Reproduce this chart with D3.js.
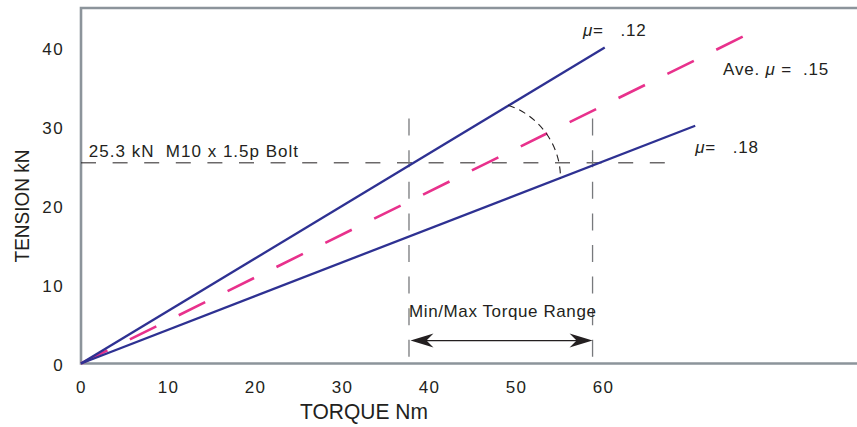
<!DOCTYPE html>
<html>
<head>
<meta charset="utf-8">
<script src="https://cdn.jsdelivr.net/npm/d3@7"></script>
<style>
  body { margin: 0; background: #fff; }
  svg { display: block; font-family: "Liberation Sans", Arial, sans-serif; }
  text { fill: #231f20; white-space: pre; }
</style>
</head>
<body>
<svg id="chart" width="857" height="427"></svg>
<script>
// tick labels
var xTicks = [0, 10, 20, 30, 40, 50, 60],
    yTicks = [0, 10, 20, 30, 40];

// friction lines: [torque Nm, tension kN] end points, all start at origin
var lineLow = [[0, 0], [60.2, 40.0]],      // mu = .12
    lineAve = [[0, 0], [76.3, 41.5]],      // ave mu = .15
    lineHigh = [[0, 0], [70.6, 30.1]];     // mu = .18

// bolt proof load and torque range
var boltTension = 25.4,
    boltLineEnd = 67.4,
    torqueRange = [37.7, 58.8],
    rangeTop = 31,
    arrowTension = 2.9,
    rangeLabelTension = 6.6;

// angle arc between the lines
var arcCenter = [46.3, 23.5],
    arcFrom = [49.1, 32.7],
    arcTo = [55.2, 23.4];

var svg = d3.select("#chart");
var x = d3.scaleLinear().domain([0, 60]).range([81, 603]),
    y = d3.scaleLinear().domain([0, 40]).range([363.5, 47.5]);
var line = d3.line().x(function (d) { return x(d[0]); }).y(function (d) { return y(d[1]); });

// frame
var axisColor = "#8c949b";
svg.append("path")
    .attr("d", "M857," + 8 + "H" + x(0) + "V" + y(0) + "H857")
    .attr("fill", "none")
    .attr("stroke", axisColor)
    .attr("stroke-width", 2.6);

// tick labels
var gx = svg.append("g")
    .attr("transform", "translate(0," + y(0) + ")")
    .call(d3.axisBottom(x).tickValues(xTicks).tickSize(0).tickPadding(17).tickFormat(d3.format("d")));
var gy = svg.append("g")
    .attr("transform", "translate(" + x(0) + ",0)")
    .call(d3.axisLeft(y).tickValues(yTicks).tickSize(0).tickPadding(17).tickFormat(d3.format("d")));
[gx, gy].forEach(function (g) {
    g.select(".domain").remove();
    g.selectAll("text")
        .attr("font-family", "Liberation Sans, Arial, sans-serif")
        .attr("font-size", 17)
        .attr("letter-spacing", 1.4)
        .attr("fill", "#231f20");
});
gy.selectAll("text").attr("dy", "0.42em");

// axis titles
svg.append("text")
    .attr("transform", "translate(364,419) scale(1,1.02)")
    .attr("text-anchor", "middle")
    .attr("font-size", 21)
    .text("TORQUE Nm");
svg.append("text")
    .attr("transform", "translate(29,206) rotate(-90) scale(0.95,1.05)")
    .attr("text-anchor", "middle")
    .attr("font-size", 20)
    .text("TENSION kN");

// bolt tension line
svg.append("path")
    .attr("d", line([[0, boltTension], [boltLineEnd, boltTension]]))
    .attr("stroke", "#231f20")
    .attr("stroke-width", 1)
    .attr("stroke-dasharray", "15,16.6");

// torque range verticals
torqueRange.forEach(function (t) {
    svg.append("path")
        .attr("d", line([[t, rangeTop], [t, 0]]))
        .attr("stroke", "#77797c")
        .attr("stroke-width", 1.3)
        .attr("stroke-dasharray", "17,14.6");
});

// friction lines
svg.append("path")
    .attr("d", line(lineAve))
    .attr("fill", "none")
    .attr("stroke", "#e8318c")
    .attr("stroke-width", 2.6)
    .attr("stroke-dasharray", "29.5,25");
[lineLow, lineHigh].forEach(function (d) {
    svg.append("path")
        .attr("d", line(d))
        .attr("fill", "none")
        .attr("stroke", "#2e3192")
        .attr("stroke-width", 2.3);
});

// angle arc
var cx = x(arcCenter[0]), cy = y(arcCenter[1]);
var r = Math.hypot(x(arcFrom[0]) - cx, y(arcFrom[1]) - cy);
var a0 = Math.atan2(y(arcFrom[1]) - cy, x(arcFrom[0]) - cx),
    a1 = Math.atan2(y(arcTo[1]) - cy, x(arcTo[0]) - cx);
var p = d3.path();
p.moveTo(cx + r * Math.cos(a0), cy + r * Math.sin(a0));
p.arc(cx, cy, r, a0, a1, false);
svg.append("path")
    .attr("d", p.toString())
    .attr("fill", "none")
    .attr("stroke", "#231f20")
    .attr("stroke-width", 1.1)
    .attr("stroke-dasharray", "7,5");

// range arrow
var ay = y(arrowTension), ax0 = x(torqueRange[0]) + 1.5, ax1 = x(torqueRange[1]);
svg.append("path")
    .attr("d", "M" + (ax0 + 10) + "," + ay + "H" + (ax1 - 10))
    .attr("stroke", "#231f20")
    .attr("stroke-width", 1.2);
[[ax0, 1], [ax1, -1]].forEach(function (a) {
    var tip = a[0], s = a[1];
    svg.append("path")
        .attr("d", "M" + tip + "," + ay +
            "L" + (tip + s * 23) + "," + (ay - 7) +
            "L" + (tip + s * 16) + "," + ay +
            "L" + (tip + s * 23) + "," + (ay + 7) + "Z")
        .attr("fill", "#231f20");
});
svg.append("text")
    .attr("x", x(d3.mean(torqueRange)) + 2)
    .attr("y", y(rangeLabelTension))
    .attr("dy", "0.36em")
    .attr("text-anchor", "middle")
    .attr("font-size", 17)
    .attr("letter-spacing", 0.6)
    .text("Min/Max Torque Range");

// labels
svg.append("text")
    .attr("x", x(0.9)).attr("y", y(26.9)).attr("dy", "0.36em")
    .attr("font-size", 17)
    .attr("letter-spacing", 1)
    .text("25.3 kN  M10 x 1.5p Bolt");

function muLabel(tx, ty, pre, post) {
    var t = svg.append("text")
        .attr("x", x(tx)).attr("y", y(ty)).attr("dy", "0.36em")
        .attr("font-size", 17)
        .attr("letter-spacing", 0.8);
    if (pre) t.append("tspan").text(pre);
    t.append("tspan").attr("font-style", "italic").text("\u03bc");
    t.append("tspan").text(post);
}
muLabel(57.7, 42.2, null, "=   .12");
muLabel(73.8, 37.3, "Ave. ", " =  .15");
muLabel(70.6, 27.4, null, "=   .18");
</script>
</body>
</html>
